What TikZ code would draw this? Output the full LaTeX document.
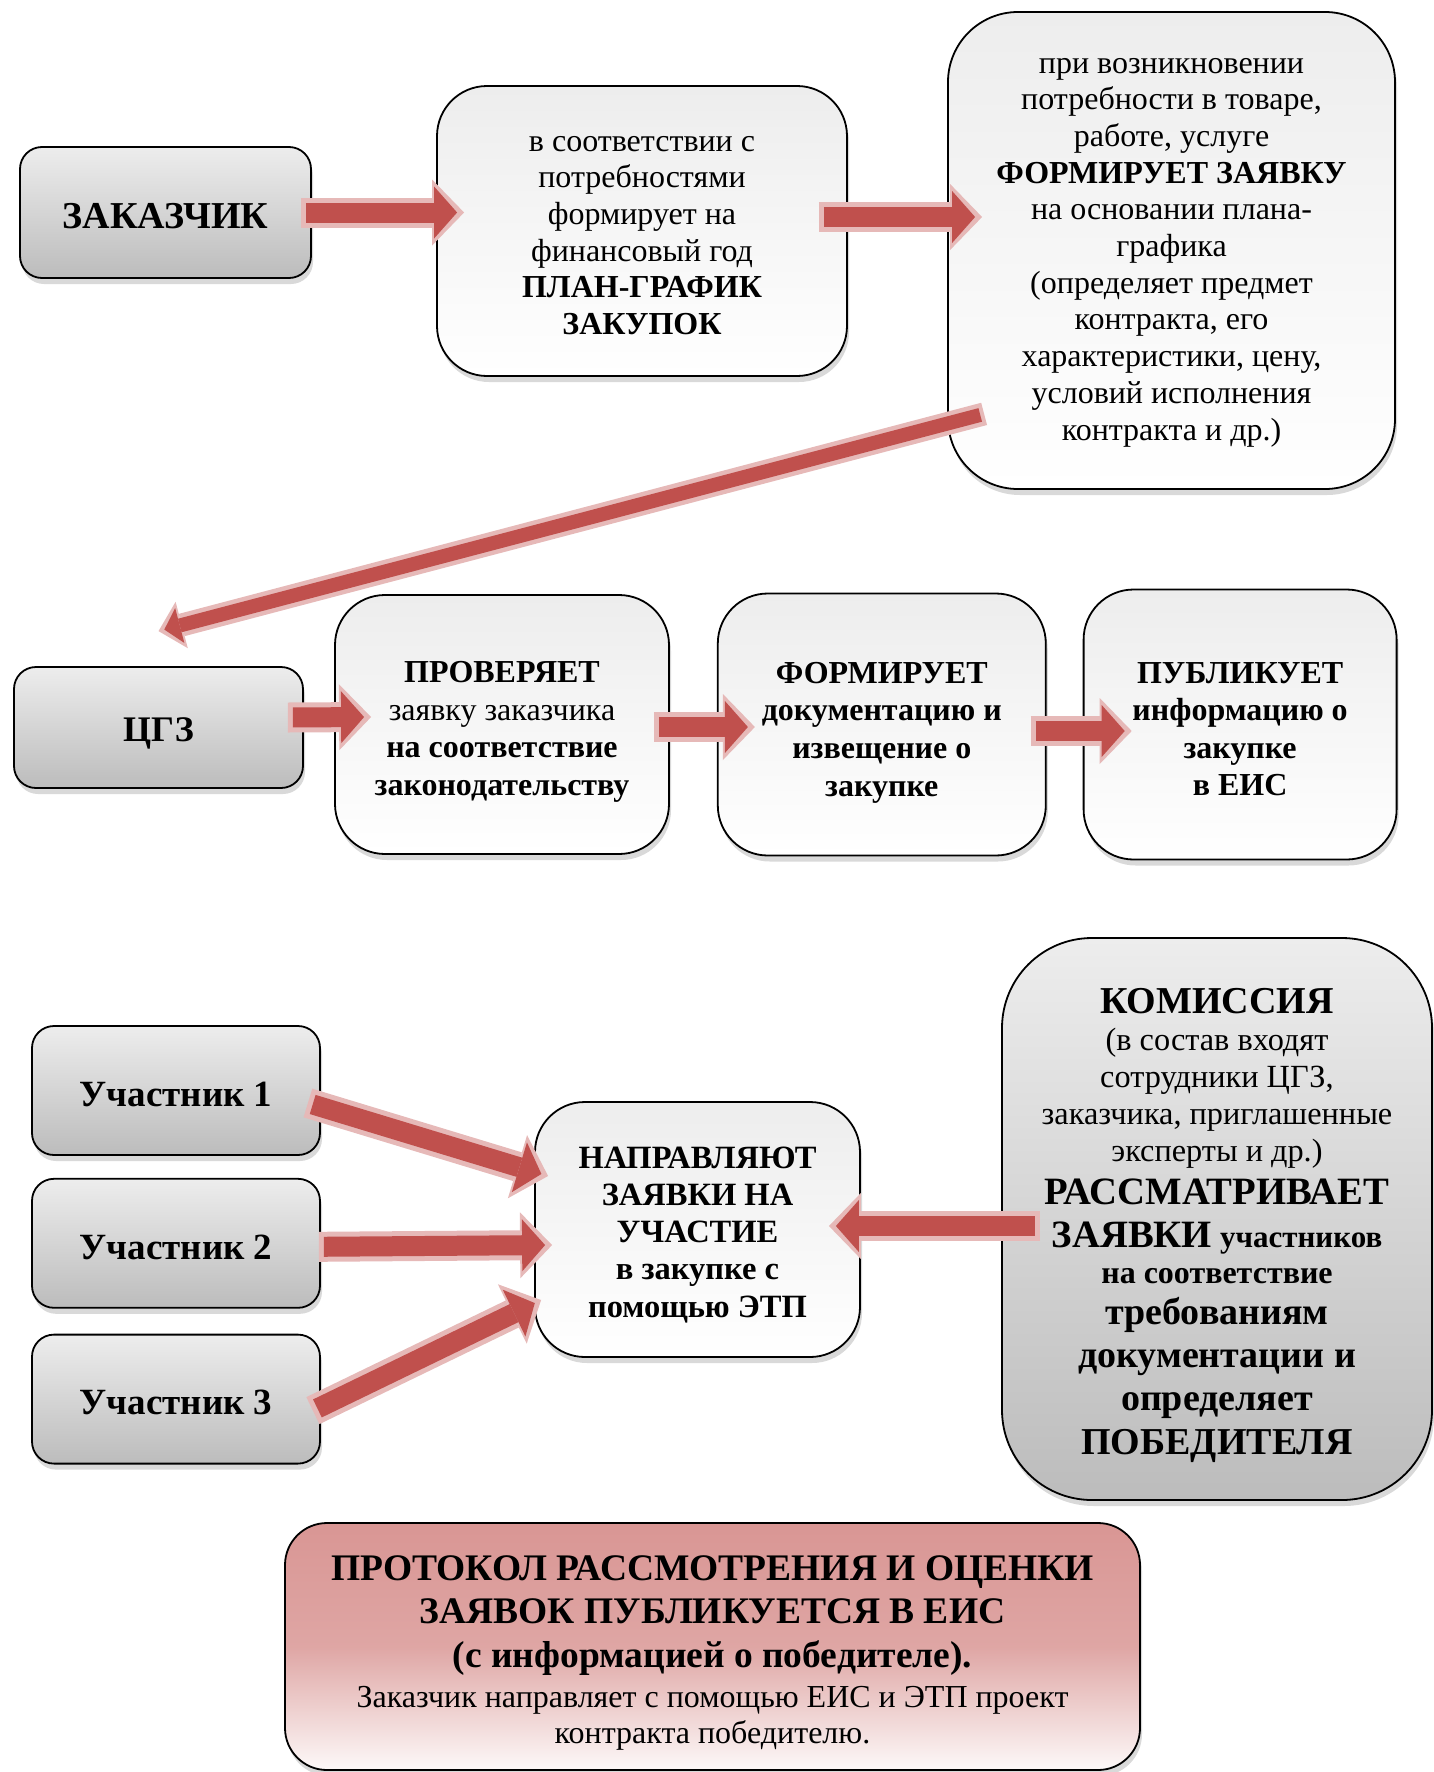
\documentclass[tikz,border=0pt]{standalone}
\usepackage{fontspec}
\setmainfont{Liberation Serif}
\usetikzlibrary{positioning, arrows.meta, shadows}

\definecolor{arrowred}{HTML}{C0504D}
\definecolor{arrowpink}{HTML}{E6B9B8}
\definecolor{boxlight}{HTML}{EDEDED}
\definecolor{boxgray}{HTML}{BCBCBC}
\definecolor{rosetop}{HTML}{D99694}

\newcommand{\sizebig}{\fontsize{38}{42}\selectfont}

\begin{document}
\begin{tikzpicture}[
    x=1pt, y=-1pt,
    node distance=23pt and 40pt,
    base/.style={draw=black, line width=1.8pt, align=center, inner sep=0pt,
        font=\fontsize{32}{36.7}\selectfont,
        drop shadow={shadow xshift=2pt, shadow yshift=-6pt, opacity=0.3}},
    graybox/.style={base, rounded corners=22pt, top color=boxlight, bottom color=boxgray},
    whitebox/.style={base, rounded corners=50pt, top color=boxlight, bottom color=white},
    bigarrow/.style={draw=arrowred, line width=20pt,
        -{Triangle[length=23pt, width=52pt, line width=0pt]},
        shorten >=7pt, shorten <=5pt,
        preaction={draw=arrowpink, line width=30pt,
            -{Triangle[length=32pt, width=66pt, line width=0pt]},
            shorten >=0pt, shorten <=0pt}},
    thinarrow/.style={draw=arrowred, line width=14pt,
        -{Triangle[length=16pt, width=36pt, line width=0pt]},
        shorten >=6pt, shorten <=4pt,
        preaction={draw=arrowpink, line width=23pt,
            -{Triangle[length=24pt, width=48pt, line width=0pt]},
            shorten >=0pt, shorten <=0pt}}
]
    \useasboundingbox (0,0) rectangle (1434,1772);

    % Заказчик и план-график
    \node (zakaz) [graybox, minimum width=291pt, minimum height=131pt,
        font=\fontsize{38}{42}\selectfont\bfseries] at (165.5,212.5) {\rule{0pt}{33pt}ЗАКАЗЧИК};
    \node (plan) [whitebox, minimum width=410pt, minimum height=290pt] at (642,231)
        {\rule{0pt}{24pt}в соответствии с\\потребностями\\формирует на\\финансовый год\\
         \textbf{ПЛАН-ГРАФИК}\\\textbf{ЗАКУПОК}};
    \node (zayavka) [whitebox, rounded corners=70pt, minimum width=447pt, minimum height=477pt]
        at (1171.5,250.5)
        {\rule{0pt}{19pt}при возникновении\\потребности в товаре,\\работе, услуге\\
         \textbf{ФОРМИРУЕТ ЗАЯВКУ}\\на основании плана-\\графика\\(определяет предмет\\
         контракта, его\\характеристики, цену,\\условий исполнения\\контракта и др.)};

    % ЦГЗ
    \node (cgz) [graybox, minimum width=289pt, minimum height=121pt,
        font=\fontsize{36}{40}\selectfont\bfseries] at (158.5,727.5) {\rule{0pt}{35pt}ЦГЗ};
    \node (proverka) [whitebox, minimum width=334pt, minimum height=259pt,
        font=\fontsize{32}{37.7}\selectfont] at (502,724.5)
        {\rule{0pt}{36pt}\textbf{ПРОВЕРЯЕТ}\\заявку заказчика\\\textbf{на соответствие}\\\textbf{законодательству}};
    \node (docs) [whitebox, minimum width=328pt, minimum height=262pt, right=47pt of proverka,
        font=\fontsize{32}{37.7}\selectfont\bfseries]
        {\rule{0pt}{37pt}ФОРМИРУЕТ\\документацию и\\извещение о\\закупке};
    \node (publish) [whitebox, minimum width=313pt, minimum height=270pt, right=36pt of docs,
        font=\fontsize{32}{37.3}\selectfont\bfseries]
        {\rule{0pt}{30pt}ПУБЛИКУЕТ\\информацию о\\закупке\\в ЕИС};

    % Участники и комиссия
    \node (uch1) [graybox, minimum width=288pt, minimum height=129pt,
        font=\fontsize{37}{40}\selectfont\bfseries] at (176,1090.5) {\rule{0pt}{32pt}Участник 1};
    \node (uch2) [graybox, minimum width=288pt, minimum height=129pt, below=22pt of uch1,
        font=\fontsize{37}{40}\selectfont\bfseries] {\rule{0pt}{32pt}Участник 2};
    \node (uch3) [graybox, minimum width=288pt, minimum height=129pt, below=25pt of uch2,
        font=\fontsize{37}{40}\selectfont\bfseries] {\rule{0pt}{32pt}Участник 3};
    \node (napr) [whitebox, minimum width=325pt, minimum height=255pt, at={(697.5,1229.5)},
        font=\fontsize{32.5}{37.2}\selectfont\bfseries]
        {\rule{0pt}{32pt}НАПРАВЛЯЮТ\\ЗАЯВКИ НА\\УЧАСТИЕ\\в закупке с\\помощью ЭТП};
    \node (komissia) [graybox, rounded corners=90pt, minimum width=430pt, minimum height=562pt,
        font=\fontsize{32.3}{37}\selectfont] at (1217,1219)
        {{\sizebig\bfseries\rule{0pt}{38pt}КОМИССИЯ}\\(в состав входят\\сотрудники ЦГЗ,\\
         заказчика, приглашенные\\эксперты и др.)\\[6pt]
         {\fontsize{38.7}{42}\selectfont\bfseries РАССМАТРИВАЕТ}\\[6pt]
         {\fontsize{38.7}{42}\selectfont\bfseries ЗАЯВКИ} {\fontsize{31}{34}\selectfont\bfseries участников}\\[-1pt]
         {\fontsize{32}{36}\selectfont\bfseries на соответствие}\\[4pt]
         {\sizebig\bfseries требованиям}\\[6pt]
         {\sizebig\bfseries документации и}\\[6pt]
         {\sizebig\bfseries определяет}\\[7pt]
         {\sizebig\bfseries ПОБЕДИТЕЛЯ}};

    % Протокол
    \node (protokol) [base, rounded corners=42pt, minimum width=855pt, minimum height=247pt,
        top color=rosetop, bottom color=rosetop!6, middle color=rosetop!85,
        font=\fontsize{32}{37}\selectfont] at (712.5,1646.5)
        {{\fontsize{37.5}{40}\selectfont\bfseries\rule{0pt}{37pt}ПРОТОКОЛ РАССМОТРЕНИЯ И ОЦЕНКИ}\\[6pt]
         {\fontsize{37.5}{40}\selectfont\bfseries ЗАЯВОК ПУБЛИКУЕТСЯ В ЕИС}\\[7pt]
         {\fontsize{37.5}{40}\selectfont\bfseries (с информацией о победителе).}\\[3pt]
         Заказчик направляет с помощью ЕИС и ЭТП проект\\[-1pt]контракта победителю.};

    % Стрелки
    \draw[bigarrow] ([xshift=-11pt]zakaz.east) -- ([xshift=28pt, yshift=18.5pt]plan.west);
    \draw[bigarrow] ([xshift=-29pt, yshift=14pt]plan.east) -- ([xshift=35pt, yshift=33.5pt]zayavka.west);
    \draw[thinarrow] ([xshift=37pt, yshift=76pt]zayavka.south west) -- ([yshift=35pt]cgz.north);

    \draw[bigarrow] ([xshift=-16pt, yshift=10pt]cgz.east) -- ([xshift=37pt, yshift=7.5pt]proverka.west);
    \draw[bigarrow] ([xshift=-16pt, yshift=-2.5pt]proverka.east) -- ([xshift=38pt, yshift=-2.5pt]docs.west);
    \draw[bigarrow] ([xshift=-16pt, yshift=-6.5pt]docs.east) -- ([xshift=49pt, yshift=-6.5pt]publish.west);

    \draw[bigarrow] ([xshift=-13pt, yshift=-12.5pt]uch1.east) -- ([xshift=14pt, yshift=53.5pt]napr.west);
    \draw[bigarrow] ([xshift=-2pt, yshift=-3.5pt]uch2.east) -- ([xshift=18pt, yshift=-15.5pt]napr.west);
    \draw[bigarrow] ([xshift=-8pt, yshift=-11.5pt]uch3.east) -- ([xshift=7pt, yshift=-70.5pt]napr.west);
    \draw[bigarrow] ([xshift=39pt, yshift=-7pt]komissia.west) -- ([xshift=-32pt, yshift=3.5pt]napr.east);

\end{tikzpicture}
\end{document}
